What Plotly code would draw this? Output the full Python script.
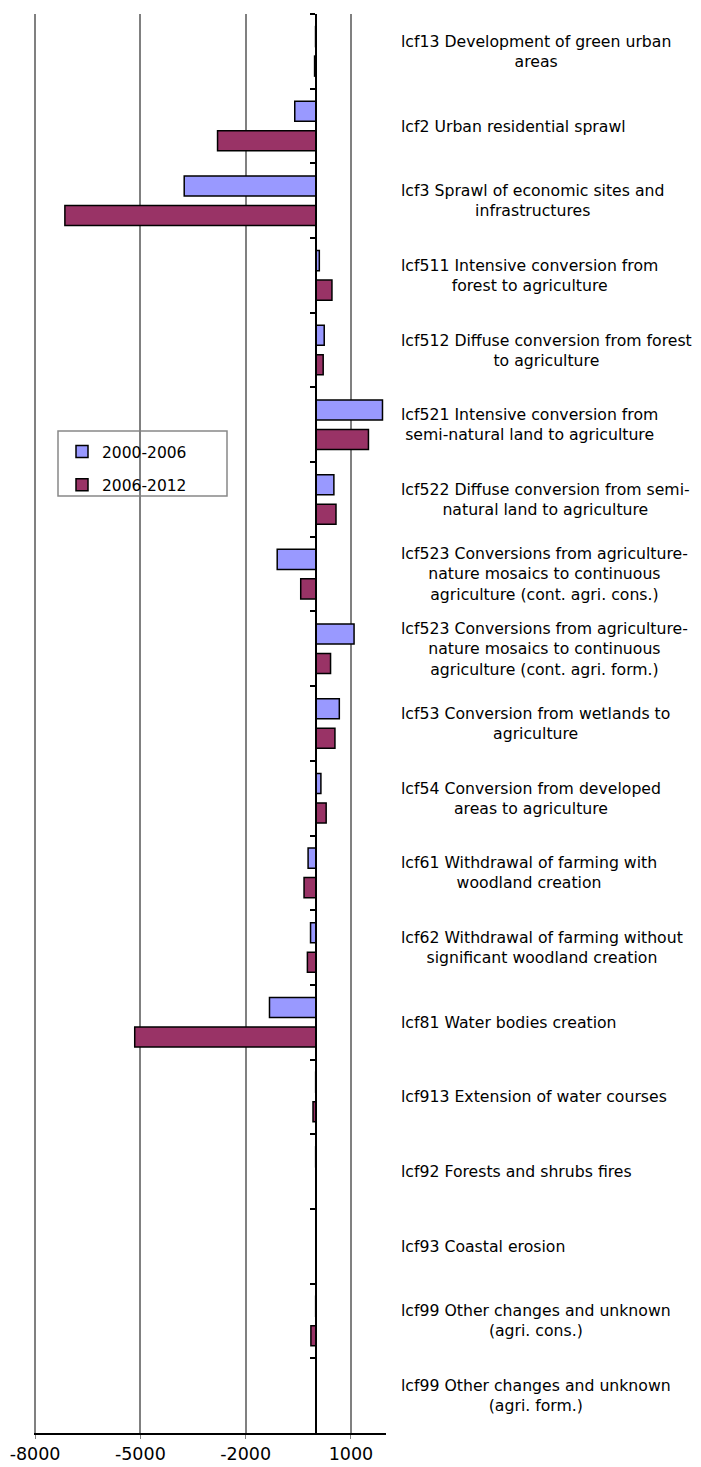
import plotly.graph_objects as go

categories = [
    "lcf13 Development of green urban<br>areas",
    "lcf2 Urban residential sprawl",
    "lcf3 Sprawl of economic sites and<br>infrastructures",
    "lcf511 Intensive conversion from<br>forest to agriculture",
    "lcf512 Diffuse conversion from forest<br>to agriculture",
    "lcf521 Intensive conversion from<br>semi-natural land to agriculture",
    "lcf522 Diffuse conversion from semi-<br>natural land to agriculture",
    "lcf523 Conversions from agriculture-<br>nature mosaics to continuous<br>agriculture (cont. agri. cons.)",
    "lcf523 Conversions from agriculture-<br>nature mosaics to continuous<br>agriculture (cont. agri. form.)",
    "lcf53 Conversion from wetlands to<br>agriculture",
    "lcf54 Conversion from developed<br>areas to agriculture",
    "lcf61 Withdrawal of farming with<br>woodland creation",
    "lcf62 Withdrawal of farming without<br>significant woodland creation",
    "lcf81 Water bodies creation",
    "lcf913 Extension of water courses",
    "lcf92 Forests and shrubs fires",
    "lcf93 Coastal erosion",
    "lcf99 Other changes and unknown<br>(agri. cons.)",
    "lcf99 Other changes and unknown<br>(agri. form.)",
]

values_2000_2006 = [-8, -600, -3750, 100, 240, 1900, 515, -1100, 1090, 670,
                    145, -220, -150, -1320, -5, -5, 0, -5, 0]
values_2006_2012 = [-35, -2800, -7150, 460, 210, 1500, 575, -430, 420, 545,
                    295, -335, -240, -5160, -80, 0, 0, -140, 0]

series_names = ["2000-2006", "2006-2012"]
series_colors = ["#9999FF", "#993366"]

x_ticks = [-8000, -5000, -2000, 1000]

FONT = "DejaVu Sans, Verdana, sans-serif"

fig = go.Figure()
for name, vals, col in zip(series_names, [values_2000_2006, values_2006_2012], series_colors):
    fig.add_trace(go.Bar(
        y=categories, x=vals, name=name, orientation="h",
        marker=dict(color=col, line=dict(color="black", width=1.5)),
        legendgroup=name,
    ))

PLOT_L, PLOT_R, PLOT_T, PLOT_B = 34, 386, 14, 1433
PW, PH = PLOT_R - PLOT_L, PLOT_B - PLOT_T

for cat in categories:
    fig.add_annotation(
        x=(399 - PLOT_L) / PW, xref="paper", y=cat, yref="y",
        text=cat, showarrow=False, xanchor="left", yanchor="middle",
        align="center", font=dict(family=FONT, size=15.7, color="black"),
    )

# legend frame
fig.add_shape(type="rect", xref="paper", yref="paper",
              x0=(58 - PLOT_L) / PW, x1=(227 - PLOT_L) / PW,
              y0=(PLOT_B - 496) / PH, y1=(PLOT_B - 431) / PH,
              line=dict(color="#888888", width=1.5), fillcolor="white", layer="below")

fig.update_layout(
    width=701, height=1467,
    margin=dict(l=PLOT_L, r=701 - PLOT_R, t=PLOT_T, b=1467 - PLOT_B, autoexpand=False),
    plot_bgcolor="white", paper_bgcolor="white",
    barmode="group", bargap=0.21, bargroupgap=0.32,
    font=dict(family=FONT, color="black"),
    showlegend=True,
    legend=dict(
        x=(62 - PLOT_L) / PW, y=(PLOT_B - 435) / PH, xanchor="left", yanchor="top",
        bgcolor="rgba(0,0,0,0)", borderwidth=0,
        font=dict(family=FONT, size=15.5, color="black"),
        traceorder="grouped", tracegroupgap=10,
    ),
    xaxis=dict(
        range=[-8030, 2000], tickvals=x_ticks, ticktext=[str(v) for v in x_ticks],
        showgrid=True, gridcolor="#808080", gridwidth=1.5,
        zeroline=False, showline=True, linecolor="black", linewidth=1.5,
        ticks="outside", ticklen=4, tickcolor="#808080",
        automargin=False,
        tickfont=dict(family=FONT, size=17.5, color="black"),
        fixedrange=True,
    ),
    yaxis=dict(
        autorange="reversed", showticklabels=False, showgrid=False,
        anchor="free", position=8030 / 10030, showline=True, linecolor="black", linewidth=2,
        ticks="outside", tickson="boundaries", ticklen=5, tickcolor="black", tickwidth=1.5,
        zeroline=False, automargin=False, fixedrange=True,
    ),
)

fig.write_html("out.html", config={"displayModeBar": False},
               post_script="document.body.style.margin='0';")
